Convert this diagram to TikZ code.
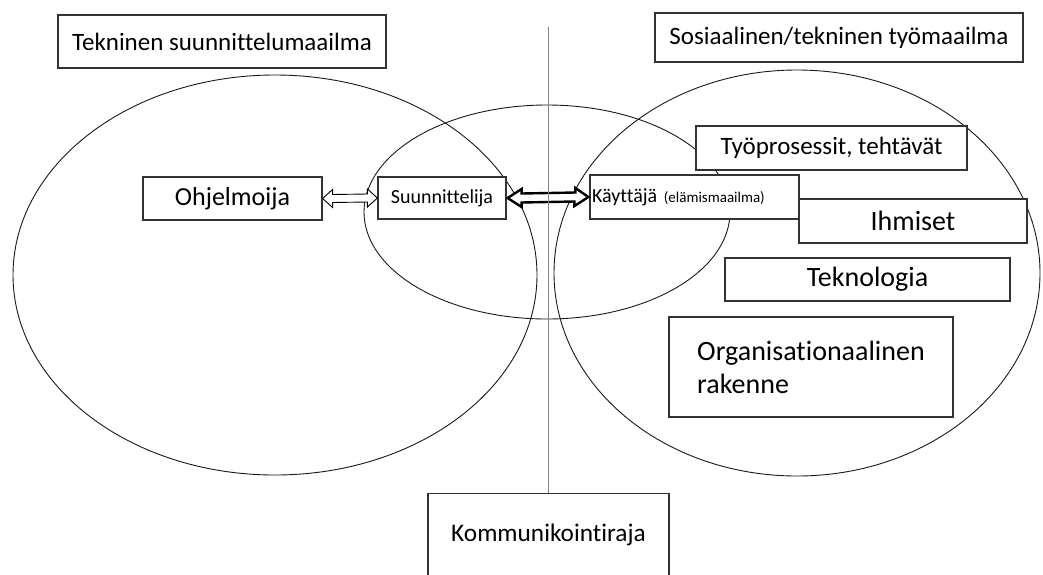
\documentclass[tikz,border=0pt]{standalone}
\usepackage{fontspec}
\setmainfont{Carlito}[Ligatures=NoCommon]
\usetikzlibrary{arrows.meta, positioning, calc}

\tikzset{
  box/.style={draw=black!80, line width=1.2pt, rectangle, inner sep=0pt, font=\fontsize{25}{29}\selectfont},
  bigbox/.style={box, font=\fontsize{28}{33}\selectfont},
  smallbox/.style={box, font=\fontsize{20}{24}\selectfont},
  world/.style={draw=black!90, line width=0.9pt},
  thinarrow/.style={draw=black, line width=0.9pt, fill=white, line join=miter},
  thickarrow/.style={draw=black, line width=2.4pt, fill=white, line join=miter}
}

\begin{document}
\begin{tikzpicture}[x=1pt, y=-1pt]
                \useasboundingbox (0,0) rectangle (1043,574);
                % Maailmat
                \draw[world] (275,275) ellipse [x radius=262pt, y radius=200pt];
                \draw[world] (547,212) ellipse [x radius=183pt, y radius=107pt];
                \draw[world] (797,273) ellipse [x radius=243pt, y radius=203pt];

                % Otsikot
                \node[box, minimum width=328pt, minimum height=53pt] (tekninen) at (222,41.5) {Tekninen suunnittelumaailma};
                \node[box, minimum width=368pt, minimum height=49pt] (sosiaalinen) at (839,37.5) {Sosiaalinen/tekninen työmaailma};

                % Toimijat
                \node[box, font=\fontsize{26}{30}\selectfont, minimum width=179pt, minimum height=43pt, fill=white] (ohjelmoija) at (232.5,198.5) {Ohjelmoija};
                \node[smallbox, minimum width=128pt, minimum height=42pt, fill=white] (suunnittelija) at (442,198) {Suunnittelija};
                \node[smallbox, text width=205pt, align=left, inner xsep=2pt, minimum height=44pt, fill=white] (kayttaja) at (694.5,197) {Käyttäjä {\fontsize{15}{17}\selectfont(elämismaailma)}};

                % Työmaailman osat
                \node[box, minimum width=271pt, minimum height=44pt, fill=white] (tyoprosessit) at (831.5,148) {Työprosessit, tehtävät};
                \node[bigbox, minimum width=228pt, minimum height=44pt, fill=white] (ihmiset) at (913,221) {Ihmiset};
                \node[bigbox, minimum width=285pt, minimum height=43pt, fill=white] (teknologia) at (867.5,279.5) {Teknologia};
                \node[bigbox, minimum width=284pt, minimum height=100pt, align=left, fill=white] (organisaatio) at (811,367) {Organisationaalinen\\rakenne};

                % Kommunikointiraja
                \node[box, font=\fontsize{25.3}{30}\selectfont, anchor=north, minimum width=241pt, inner ysep=31pt, text height=17pt, text depth=60pt, fill=white] (raja) at (548.5,493) {Kommunikointiraja};

                % Nuolet (ontot kaksoisnuolet)
                \draw[thinarrow] (ohjelmoija.east) -- ++(10,-9) -- ++(0,5) -- ($(suunnittelija.west)+(-10,-4)$) -- ++(0,-5)
                  -- (suunnittelija.west) -- ++(-10,9) -- ++(0,-5) -- ($(ohjelmoija.east)+(10,4)$) -- ++(0,5) -- cycle;
                \draw[thickarrow] ($(suunnittelija.east)+(1,0)$) -- ++(14,-9) -- ++(0,4.5) -- ($(kayttaja.west)+(-14,-4.5)$) -- ++(0,-4.5)
                  -- ($(kayttaja.west)+(-1,0)$) -- ++(-14,9) -- ++(0,-4.5) -- ($(suunnittelija.east)+(15,4.5)$) -- ++(0,4.5) -- cycle;

                % raja viiva
                \coordinate (rajatop) at (548.5,27);
                \draw[black!50, line width=1.5pt] (rajatop) -- (raja.north);
            \end{tikzpicture}
\end{document}
